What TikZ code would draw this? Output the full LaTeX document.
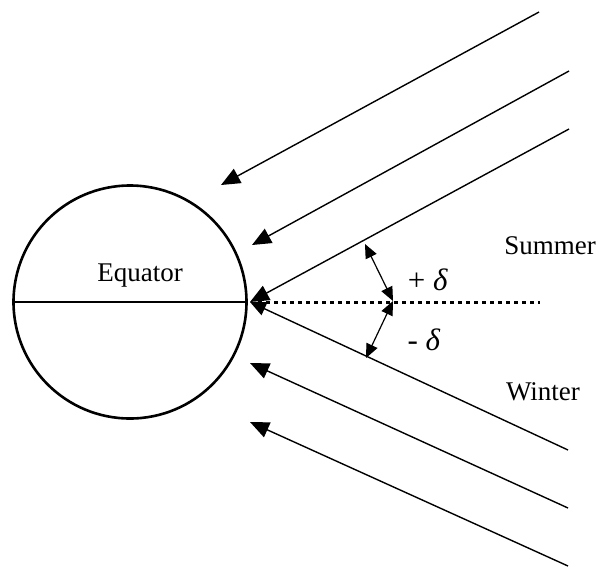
\documentclass[tikz,border=0pt]{standalone}
\usepackage{fontspec}
\setmainfont{Liberation Serif}
\usetikzlibrary{arrows.meta}
\begin{document}
\begin{tikzpicture}[x=1pt,y=-1pt,
  ray/.style={line width=1.4pt,-{Triangle[length=19pt,width=16pt]}},
  angarrow/.style={line width=1.2pt,{Triangle[length=14pt,width=12pt]}-{Triangle[length=14pt,width=12pt]}},
  lbl/.style={font=\fontsize{27}{30}\selectfont,inner sep=0pt},
  dlbl/.style={font=\fontsize{31}{34}\selectfont,inner sep=0pt}]
\useasboundingbox (0,0) rectangle (601,568);
% Earth
\node[draw,circle,line width=2.6pt,minimum size=233pt,inner sep=0pt] (earth) at (130,302) {};
\draw[line width=2.8pt] (earth.west) -- (earth.east);
\node[lbl] (eq) at (140,276) {Equator};
% ray endpoints
\coordinate (c) at (250,302);
\coordinate (s1) at (539,12);   \coordinate (t1) at (221,185);
\coordinate (s2) at (569,71);   \coordinate (t2) at (252,245);
\coordinate (s3) at (569,129);
\coordinate (s4) at (568,450);
\coordinate (s5) at (568,508);  \coordinate (t5) at (250,363);
\coordinate (s6) at (568,566);  \coordinate (t6) at (250,422);
\draw[ray] (s1) -- (t1);
\draw[ray] (s2) -- (t2);
\draw[ray] (s3) -- (c);
\draw[line width=1.4pt,-{Triangle[length=16pt,width=14pt]}] (s4) -- (c);
\draw[ray] (s5) -- (t5);
\draw[ray] (s6) -- (t6);
% dotted horizontal
\coordinate (d1) at (258,302);
\coordinate (d2) at (540,302);
\draw[line width=3pt,dash pattern=on 3.5pt off 4.5pt] (d1) -- (d2);
% angle arrows
\coordinate (a1) at (365,244);
\coordinate (a0) at (393,301);
\coordinate (a2) at (366,358);
\draw[angarrow] (a1) -- (a0);
\draw[angarrow] (a0) -- (a2);
% labels
\node[dlbl] (pd) at (428,280) {+ \textit{δ}};
\node[dlbl] (md) at (424,340) {- \textit{δ}};
\node[lbl] (summer) at (550,246) {Summer};
\node[lbl] (winter) at (543,392) {Winter};
\end{tikzpicture}
\end{document}
